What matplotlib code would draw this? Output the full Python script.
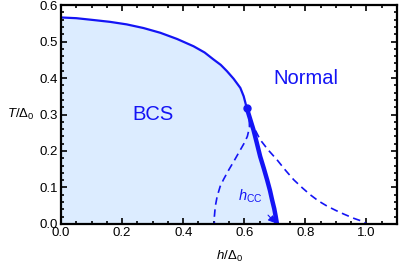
import matplotlib as mpl
mpl.use("Agg")
import matplotlib.pyplot as plt
from matplotlib import ticker as mticker

mpl.rcParams['font.family'] = ['Liberation Sans', 'DejaVu Sans']
mpl.rcParams['mathtext.fontset'] = 'custom'
mpl.rcParams['mathtext.rm'] = 'Liberation Sans'
mpl.rcParams['mathtext.it'] = 'Liberation Sans:italic'

# second-order line T_c(h), from h=0 to the tricritical point
h_second = [0.0, 0.05, 0.106, 0.16, 0.215, 0.27, 0.325, 0.38, 0.434, 0.47,
            0.499, 0.523, 0.543, 0.565, 0.587, 0.598, 0.608]
T_second = [0.566, 0.564, 0.559, 0.554, 0.547, 0.537, 0.524, 0.507, 0.487, 0.470,
            0.451, 0.436, 0.419, 0.398, 0.373, 0.350, 0.318]

# first-order line (thick), tricritical point down to h_CC
h_first = [0.608, 0.619, 0.630, 0.641, 0.652, 0.664, 0.675, 0.684, 0.691, 0.698, 0.703, 0.707]
T_first = [0.318, 0.288, 0.258, 0.222, 0.185, 0.152, 0.120, 0.092, 0.066, 0.042, 0.020, 0.0]

# dashed continuation of T_c(h) back to h = 0.5
h_dash_left = [0.608, 0.616, 0.617, 0.610, 0.600, 0.587, 0.568, 0.549, 0.532,
               0.521, 0.511, 0.505, 0.502, 0.502]
T_dash_left = [0.318, 0.290, 0.265, 0.240, 0.222, 0.203, 0.175, 0.148, 0.122,
               0.103, 0.075, 0.048, 0.020, 0.0]

# dashed superheating line down to h = 1
h_dash_right = [0.608, 0.618, 0.630, 0.652, 0.678, 0.707, 0.735, 0.762, 0.790,
                0.816, 0.843, 0.871, 0.900, 0.926, 0.960, 0.991, 1.0]
T_dash_right = [0.318, 0.290, 0.267, 0.231, 0.203, 0.176, 0.147, 0.121, 0.099,
                0.080, 0.063, 0.049, 0.037, 0.027, 0.015, 0.006, 0.0]

tricritical = (0.608, 0.318)

fig = plt.figure(figsize=(3.99, 2.66), dpi=100)
ax = fig.add_axes([0.153, 0.158, 0.842, 0.823])

blue = '#1414f5'
fill_h = h_second + h_first[1:] + [0.0]
fill_T = T_second + T_first[1:] + [0.0]
ax.fill(fill_h, fill_T, color='#dcecff', lw=0, zorder=0)

ax.plot(h_second, T_second, color=blue, lw=1.6)
ax.plot(h_first, T_first, color=blue, lw=3.2, solid_capstyle='butt')
ax.plot(h_dash_left, T_dash_left, color=blue, lw=1.2, dashes=(4.5, 2.8))
ax.plot(h_dash_right, T_dash_right, color=blue, lw=1.2, dashes=(4.5, 2.8))
ax.plot(*tricritical, 'o', color=blue, ms=5)

ax.text(0.30, 0.30, 'BCS', color=blue, fontsize=14.5, ha='center', va='center')
ax.text(0.80, 0.40, 'Normal', color=blue, fontsize=14.5, ha='center', va='center')
ax.annotate(r'$h_{\rm CC}$', xy=(0.703, 0.002), xytext=(0.62, 0.075),
            color=blue, fontsize=10.5, ha='center', va='center',
            arrowprops=dict(arrowstyle='-|>', color=blue, lw=0.8,
                            shrinkA=7, shrinkB=0, mutation_scale=11))

ax.set_xlim(0, 1.1)
ax.set_ylim(0, 0.6)
ax.xaxis.set_major_locator(mticker.MultipleLocator(0.2))
ax.xaxis.set_minor_locator(mticker.MultipleLocator(0.05))
ax.yaxis.set_major_locator(mticker.MultipleLocator(0.1))
ax.yaxis.set_minor_locator(mticker.MultipleLocator(0.02))
ax.xaxis.set_major_formatter(mticker.FormatStrFormatter('%.1f'))
ax.yaxis.set_major_formatter(mticker.FormatStrFormatter('%.1f'))
ax.tick_params(which='both', direction='in', top=True, right=True,
               width=1.2, labelsize=9.5, pad=2, colors='black')
ax.tick_params(which='major', length=4)
ax.tick_params(which='minor', length=2)
for s in ax.spines.values():
    s.set_linewidth(1.6)

ax.set_xlabel(r'$h/\Delta_0$', fontsize=9.5, labelpad=7)
ax.set_ylabel(r'$T/\Delta_0$', fontsize=9.5, rotation=0, labelpad=14, va='center')

fig.savefig('out.png', dpi=100)
